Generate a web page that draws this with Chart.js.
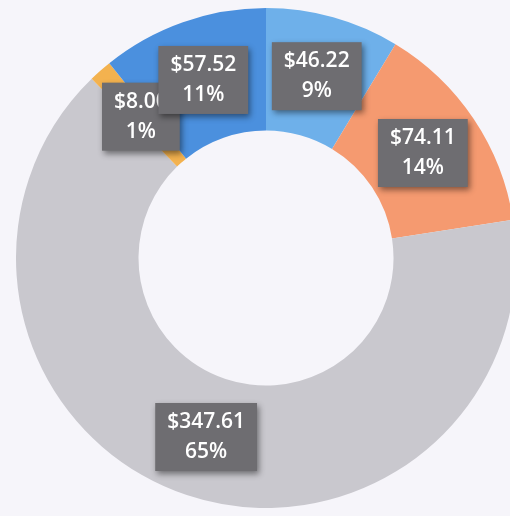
<!DOCTYPE html>
<html>
<head>
<meta charset="utf-8">
<script src="https://cdn.jsdelivr.net/npm/chart.js@4/dist/chart.umd.min.js"></script>
<style>
  html, body { margin: 0; padding: 0; background: #f6f5fa; overflow: hidden; width: 510px; height: 516px; }
  #chart { position: absolute; left: 16px; top: 8px; }
</style>
</head>
<body>
<canvas id="chart" width="500" height="500"></canvas>
<script>
// slices, clockwise from 12 o'clock
const categories = ["A", "B", "C", "D", "E"];
const amounts = [46.22, 74.11, 347.61, 8.0, 57.52];
const colors = ["#6eb0ea", "#f59a70", "#c9c8ce", "#f3b24f", "#4b90de"];

const total = amounts.reduce((a, b) => a + b, 0);

const boxLabels = {
  id: "boxLabels",
  afterDatasetsDraw(chart) {
    const ctx = chart.ctx;
    const meta = chart.getDatasetMeta(0);
    ctx.save();
    ctx.font = "600 21px 'Open Sans', sans-serif";
    ctx.textAlign = "center";
    ctx.textBaseline = "middle";
    meta.data.forEach((arc, i) => {
      const p = arc.getCenterPoint();
      const line1 = "$" + amounts[i].toFixed(2);
      const line2 = Math.round(amounts[i] / total * 100) + "%";
      const w = Math.max(ctx.measureText(line1).width, ctx.measureText(line2).width) + 24;
      const h = 68;
      ctx.shadowColor = "rgba(0,0,0,0.45)";
      ctx.shadowBlur = 6;
      ctx.shadowOffsetX = 2;
      ctx.shadowOffsetY = 3;
      ctx.fillStyle = "#6e6d71";
      ctx.fillRect(p.x - w / 2, p.y - h / 2, w, h);
      ctx.shadowColor = "transparent";
      ctx.fillStyle = "#ffffff";
      ctx.fillText(line1, p.x, p.y - 15);
      ctx.fillText(line2, p.x, p.y + 15);
    });
    ctx.restore();
  }
};

new Chart(document.getElementById("chart"), {
  type: "doughnut",
  data: {
    labels: categories,
    datasets: [{
      data: amounts,
      backgroundColor: colors,
      borderWidth: 0
    }]
  },
  options: {
    responsive: false,
    animation: false,
    cutout: "51%",
    layout: { padding: 0 },
    plugins: {
      legend: { display: false },
      tooltip: { enabled: false }
    }
  },
  plugins: [boxLabels]
});
</script>
</body>
</html>
